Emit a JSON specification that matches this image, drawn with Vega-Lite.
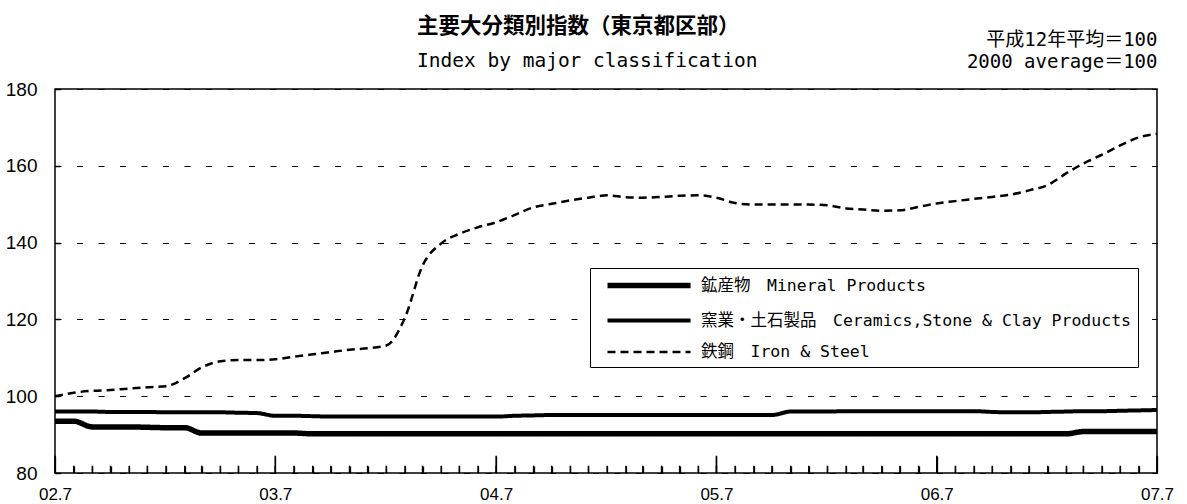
{
  "$schema": "https://vega.github.io/schema/vega-lite/v6.json",
  "width": 1102,
  "height": 384,
  "autosize": {"type": "none"},
  "padding": {"left": 55, "top": 89, "right": 30, "bottom": 31},
  "background": "white",
  "title": {
    "text": "主要大分類別指数（東京都区部）",
    "subtitle": "Index by major classification",
    "anchor": "start",
    "frame": "group",
    "dx": 362,
    "offset": -40,
    "font": "Noto Sans CJK JP",
    "fontSize": 21.5,
    "fontWeight": "bold",
    "color": "black",
    "subtitleFont": "DejaVu Sans Mono",
    "subtitleFontSize": 19.5,
    "subtitleColor": "black",
    "subtitlePadding": 14
  },
  "config": {
    "view": {"stroke": "black", "strokeWidth": 1.5},
    "legend": {
      "orient": "none",
      "legendX": 535,
      "legendY": 179,
      "strokeColor": "black",
      "fillColor": "white",
      "padding": 6,
      "symbolType": "M0,0H10",
      "symbolSize": 276,
      "symbolStrokeColor": "black",
      "labelFont": "DejaVu Sans Mono, Noto Sans CJK JP",
      "labelFontSize": 16.5,
      "labelColor": "black",
      "labelLimit": 700,
      "rowPadding": 13,
      "labelOffset": 82
    }
  },
  "data": {
    "values": [
      {"date": "2002-07-01", "m": 93.5, "c": 96.0, "i": 100.0},
      {"date": "2002-08-01", "m": 93.5, "c": 96.0, "i": 100.9},
      {"date": "2002-09-01", "m": 92.0, "c": 96.0, "i": 101.4},
      {"date": "2002-10-01", "m": 92.0, "c": 95.9, "i": 101.6},
      {"date": "2002-11-01", "m": 92.0, "c": 95.9, "i": 102.0},
      {"date": "2002-12-01", "m": 91.9, "c": 95.9, "i": 102.3},
      {"date": "2003-01-01", "m": 91.8, "c": 95.8, "i": 102.6},
      {"date": "2003-02-01", "m": 91.8, "c": 95.8, "i": 104.7},
      {"date": "2003-03-01", "m": 90.4, "c": 95.8, "i": 107.5},
      {"date": "2003-04-01", "m": 90.4, "c": 95.8, "i": 109.1},
      {"date": "2003-05-01", "m": 90.4, "c": 95.7, "i": 109.4},
      {"date": "2003-06-01", "m": 90.4, "c": 95.6, "i": 109.4},
      {"date": "2003-07-01", "m": 90.4, "c": 94.9, "i": 109.6},
      {"date": "2003-08-01", "m": 90.4, "c": 94.9, "i": 110.3},
      {"date": "2003-09-01", "m": 90.2, "c": 94.8, "i": 110.9},
      {"date": "2003-10-01", "m": 90.2, "c": 94.7, "i": 111.5},
      {"date": "2003-11-01", "m": 90.2, "c": 94.7, "i": 112.1},
      {"date": "2003-12-01", "m": 90.2, "c": 94.7, "i": 112.5},
      {"date": "2004-01-01", "m": 90.2, "c": 94.7, "i": 113.2},
      {"date": "2004-02-01", "m": 90.2, "c": 94.7, "i": 120.5},
      {"date": "2004-03-01", "m": 90.2, "c": 94.7, "i": 134.0},
      {"date": "2004-04-01", "m": 90.2, "c": 94.7, "i": 139.8},
      {"date": "2004-05-01", "m": 90.2, "c": 94.7, "i": 142.3},
      {"date": "2004-06-01", "m": 90.2, "c": 94.7, "i": 144.0},
      {"date": "2004-07-01", "m": 90.2, "c": 94.7, "i": 145.3},
      {"date": "2004-08-01", "m": 90.2, "c": 94.9, "i": 147.2},
      {"date": "2004-09-01", "m": 90.2, "c": 95.0, "i": 149.2},
      {"date": "2004-10-01", "m": 90.2, "c": 95.1, "i": 150.1},
      {"date": "2004-11-01", "m": 90.2, "c": 95.1, "i": 151.0},
      {"date": "2004-12-01", "m": 90.2, "c": 95.1, "i": 151.7},
      {"date": "2005-01-01", "m": 90.2, "c": 95.1, "i": 152.3},
      {"date": "2005-02-01", "m": 90.2, "c": 95.1, "i": 151.8},
      {"date": "2005-03-01", "m": 90.2, "c": 95.1, "i": 151.7},
      {"date": "2005-04-01", "m": 90.2, "c": 95.1, "i": 151.9},
      {"date": "2005-05-01", "m": 90.2, "c": 95.1, "i": 152.2},
      {"date": "2005-06-01", "m": 90.2, "c": 95.1, "i": 152.3},
      {"date": "2005-07-01", "m": 90.2, "c": 95.1, "i": 151.7},
      {"date": "2005-08-01", "m": 90.2, "c": 95.1, "i": 150.3},
      {"date": "2005-09-01", "m": 90.2, "c": 95.1, "i": 149.9},
      {"date": "2005-10-01", "m": 90.2, "c": 95.1, "i": 149.9},
      {"date": "2005-11-01", "m": 90.2, "c": 96.0, "i": 149.9},
      {"date": "2005-12-01", "m": 90.2, "c": 96.0, "i": 149.9},
      {"date": "2006-01-01", "m": 90.2, "c": 96.0, "i": 149.7},
      {"date": "2006-02-01", "m": 90.2, "c": 96.1, "i": 148.9},
      {"date": "2006-03-01", "m": 90.2, "c": 96.1, "i": 148.6},
      {"date": "2006-04-01", "m": 90.2, "c": 96.1, "i": 148.3},
      {"date": "2006-05-01", "m": 90.2, "c": 96.1, "i": 148.4},
      {"date": "2006-06-01", "m": 90.2, "c": 96.1, "i": 149.3},
      {"date": "2006-07-01", "m": 90.2, "c": 96.1, "i": 150.2},
      {"date": "2006-08-01", "m": 90.2, "c": 96.1, "i": 150.8},
      {"date": "2006-09-01", "m": 90.2, "c": 96.1, "i": 151.4},
      {"date": "2006-10-01", "m": 90.2, "c": 95.9, "i": 151.9},
      {"date": "2006-11-01", "m": 90.2, "c": 95.8, "i": 152.5},
      {"date": "2006-12-01", "m": 90.2, "c": 95.8, "i": 153.6},
      {"date": "2007-01-01", "m": 90.2, "c": 95.9, "i": 155.0},
      {"date": "2007-02-01", "m": 90.2, "c": 96.0, "i": 158.1},
      {"date": "2007-03-01", "m": 90.8, "c": 96.1, "i": 160.6},
      {"date": "2007-04-01", "m": 90.8, "c": 96.1, "i": 162.9},
      {"date": "2007-05-01", "m": 90.8, "c": 96.2, "i": 165.3},
      {"date": "2007-06-01", "m": 90.8, "c": 96.3, "i": 167.4},
      {"date": "2007-07-01", "m": 90.8, "c": 96.4, "i": 168.3}
    ]
  },
  "transform": [{"fold": ["m", "c", "i"], "as": ["series", "value"]}],
  "layer": [
    {
      "mark": {"type": "line", "color": "black", "interpolate": "monotone"},
      "encoding": {
        "x": {
          "field": "date",
          "type": "temporal",
          "scale": {
            "type": "utc",
            "nice": false,
            "domain": [
              {"year": 2002, "month": 7, "date": 1, "utc": true},
              {"year": 2007, "month": 7, "date": 1, "utc": true}
            ]
          },
          "axis": {
            "title": null,
            "tickCount": {"interval": "month", "step": 1},
            "labelExpr": "utcmonth(datum.value) == 6 ? utcFormat(datum.value, '%y.%-m') : ''",
            "ticks": true,
            "tickSize": {"condition": {"test": "utcmonth(datum.value) == 6", "value": -17}, "value": -7},
            "tickColor": "black",
            "tickWidth": 1.3,
            "grid": false,
            "domain": false,
            "labelFont": "Liberation Sans Narrow, Liberation Sans",
            "labelFontSize": 17,
            "labelColor": "black",
            "labelPadding": 30,
            "labelFlush": false,
            "labelOverlap": false,
            "labelBound": false
          }
        },
        "y": {
          "field": "value",
          "type": "quantitative",
          "scale": {"domain": [80, 180], "nice": false, "zero": false},
          "axis": {
            "title": null,
            "values": [80, 100, 120, 140, 160, 180],
            "grid": true,
            "gridDash": [6, 15.5],
            "gridColor": "black",
            "gridWidth": 1,
            "gridOpacity": 1,
            "ticks": true,
            "tickSize": -5,
            "tickColor": "black",
            "tickWidth": 1.5,
            "domain": false,
            "labelFont": "Liberation Sans Narrow, Liberation Sans",
            "labelFontSize": 19,
            "labelColor": "black",
            "labelPadding": 23
          }
        },
        "strokeWidth": {
          "field": "series",
          "type": "ordinal",
          "scale": {"domain": ["m", "c", "i"], "range": [5.5, 2.5, 3]},
          "legend": {
            "title": null,
            "labelExpr": "datum.label == 'm' ? '鉱産物　Mineral Products' : datum.label == 'c' ? '窯業・土石製品　Ceramics,Stone & Clay Products' : '鉄鋼　Iron & Steel'"
          }
        },
        "strokeDash": {
          "field": "series",
          "type": "nominal",
          "scale": {"domain": ["m", "c", "i"], "range": [[1, 0], [1, 0], [8, 5]]},
          "legend": {
            "title": null,
            "labelExpr": "datum.label == 'm' ? '鉱産物　Mineral Products' : datum.label == 'c' ? '窯業・土石製品　Ceramics,Stone & Clay Products' : '鉄鋼　Iron & Steel'"
          }
        }
      }
    },
    {
      "transform": [{"filter": "datum.series == 'm'"}],
      "mark": {"type": "rule", "color": "black", "strokeWidth": 1.5},
      "encoding": {
        "x": {"field": "date", "type": "temporal", "axis": null},
        "y": {"datum": 80},
        "y2": {"datum": 81.9}
      }
    },
    {
      "transform": [{"filter": "datum.series == 'm' && utcmonth(datum.date) == 6"}],
      "mark": {"type": "rule", "color": "black", "strokeWidth": 1.5},
      "encoding": {
        "x": {"field": "date", "type": "temporal", "axis": null},
        "y": {"datum": 80},
        "y2": {"datum": 84.5}
      }
    },
    {
      "mark": {"type": "rule", "opacity": 0},
      "encoding": {
        "x": {
          "field": "date",
          "type": "temporal",
          "axis": {
            "orient": "top",
            "title": ["平成12年平均＝100", "2000 average＝100"],
            "titleAnchor": "end",
            "titleAlign": "right",
            "titleFont": "DejaVu Sans Mono, Noto Sans CJK JP",
            "titleFontSize": 19,
            "titleFontWeight": "normal",
            "titleColor": "black",
            "titleLineHeight": 22,
            "titlePadding": 18,
            "labels": false,
            "ticks": false,
            "domain": false,
            "grid": false
          }
        }
      }
    }
  ],
  "resolve": {"axis": {"x": "independent"}}
}
